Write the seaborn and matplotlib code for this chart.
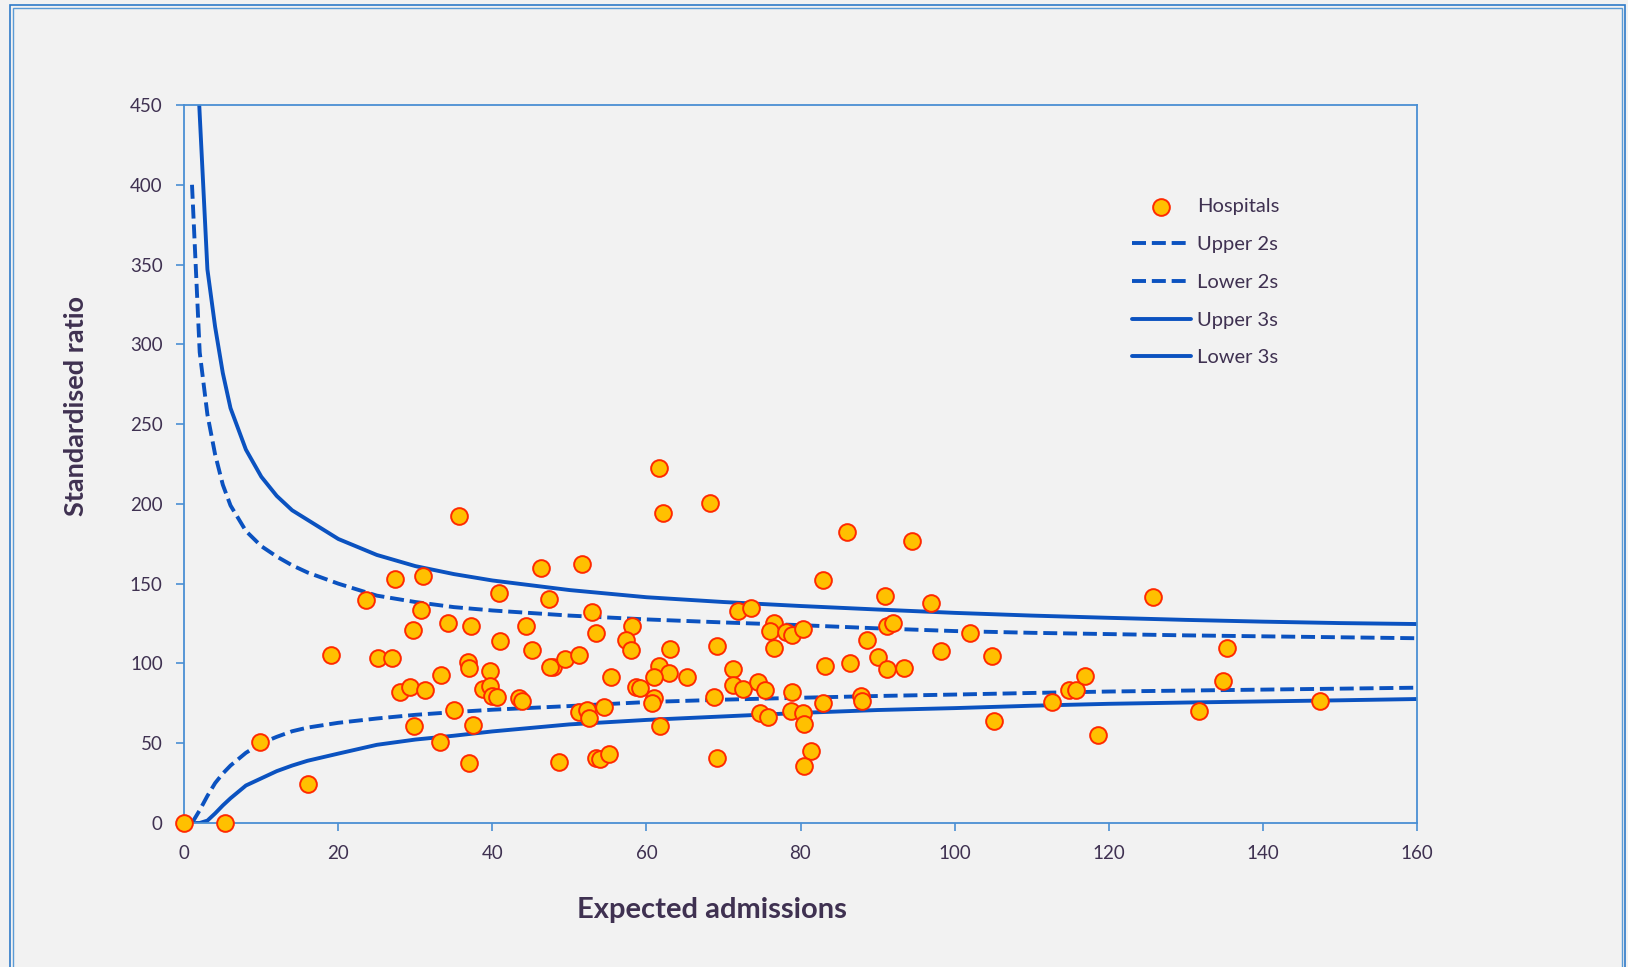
import matplotlib
matplotlib.use("Agg")
import matplotlib.pyplot as plt
from matplotlib.patches import Rectangle
import pandas as pd
import seaborn as sns

# Hospital results: expected admissions and standardised ratio (observed / expected x 100)
expected = [
    35.7, 27.4, 31.0, 23.6, 30.7, 40.9, 46.3, 47.4, 34.2, 37.2, 29.7, 44.4, 41.0,
    45.1, 19.0, 25.1, 27.0, 36.8, 36.9, 39.7, 33.3, 28.0, 29.3, 31.3, 38.8, 39.7,
    39.9, 40.6, 43.4, 43.9, 35.0, 29.8, 37.5, 33.2, 37.0, 9.8, 16.1, 0.0, 5.3,
    61.6, 62.1, 68.2, 86.0, 51.6, 82.9, 91.0, 52.9, 71.9, 73.6, 58.1, 53.5, 57.4,
    58.0, 63.1, 69.1, 76.5, 76.1, 78.1, 78.9, 80.3, 91.2, 92.0, 76.5, 88.6, 47.9,
    47.5, 49.4, 51.3, 55.4, 61.6, 62.9, 61.0, 65.3, 71.2, 71.3, 72.5, 74.5, 75.4,
    78.9, 83.2, 86.4, 90.0, 91.2, 93.5, 58.7, 59.2, 68.8, 61.0, 60.7, 87.8, 88.0,
    82.9, 51.3, 52.3, 52.6, 54.5, 61.7, 74.8, 75.8, 78.8, 80.3, 80.5, 81.4, 80.4,
    48.7, 53.4, 54.0, 55.2, 69.1,
    94.5, 97.0, 125.8, 102.0, 98.3, 104.9, 135.4, 105.1, 112.7, 114.9, 115.8,
    117.0, 118.6, 131.7, 134.9, 147.4,
]
ratio = [
    192.4, 153.1, 154.6, 140.0, 133.5, 144.3, 159.6, 140.4, 125.5, 123.7, 121.0, 123.6, 114.1,
    108.4, 105.3, 103.2, 103.2, 100.7, 97.0, 95.3, 92.6, 81.9, 85.0, 83.4, 84.0, 86.1,
    79.8, 79.2, 78.1, 76.7, 71.0, 60.6, 61.2, 51.0, 37.8, 51.0, 24.4, 0.0, 0.0,
    222.7, 194.3, 200.6, 182.2, 162.1, 152.1, 142.5, 132.4, 133.1, 134.5, 123.5, 119.3, 114.7,
    108.4, 108.9, 110.9, 125.2, 120.5, 119.9, 117.8, 121.6, 123.7, 125.2, 109.5, 114.7, 97.6,
    98.0, 102.6, 105.3, 91.7, 98.4, 93.8, 91.3, 91.3, 96.3, 86.5, 83.8, 88.2, 83.4,
    81.9, 98.4, 100.5, 103.8, 96.3, 97.2, 85.0, 84.4, 79.2, 78.1, 75.4, 79.8, 76.7,
    75.4, 69.8, 70.8, 66.0, 72.9, 61.0, 69.1, 66.6, 70.4, 69.1, 61.9, 45.3, 35.9,
    38.4, 40.9, 39.9, 43.4, 40.5,
    176.5, 138.1, 141.8, 119.3, 107.8, 104.7, 109.9, 63.7, 75.6, 83.2, 83.2,
    92.1, 55.3, 70.0, 88.8, 76.3,
]

# Control limits around 100, by expected admissions
upper3_x = [1.5, 2, 3, 4, 5, 6, 8, 10, 12, 14, 16, 20, 25, 30, 35, 40, 50, 60, 70,
            80, 90, 100, 110, 120, 130, 140, 150, 160]
upper3_y = [495, 444, 347, 311, 282, 260, 234, 217, 205, 196, 190, 178, 168, 161,
            156, 152, 146, 141.5, 138.5, 136, 133.8, 131.7, 130, 128.6, 127.3,
            126.2, 125.3, 124.7]

upper2_x = [1, 2, 3, 4, 5, 6, 8, 10, 12, 14, 16, 20, 25, 30, 35, 40, 50, 60, 70,
            80, 90, 100, 110, 120, 130, 140, 150, 160]
upper2_y = [400, 295, 256, 231, 212, 199, 183, 173.5, 167, 161.5, 157, 150, 142.5,
            138.5, 135.3, 133.2, 130, 127.6, 125.7, 124, 122, 120.3, 119.2, 118.4,
            117.6, 117, 116.4, 115.8]

lower2_x = [1, 2, 3, 4, 5, 6, 8, 10, 12, 14, 16, 20, 25, 30, 35, 40, 50, 60, 70,
            80, 90, 100, 110, 120, 130, 140, 150, 160]
lower2_y = [0, 8, 17, 25, 31, 36, 44, 50, 54, 57.5, 59.8, 62.8, 65.5, 67.8, 69.5,
            71, 73.3, 75.8, 77.3, 78.5, 79.6, 80.5, 81.5, 82.4, 83, 83.6, 84.2, 84.8]

lower3_x = [1.5, 2, 3, 4, 5, 6, 8, 10, 12, 14, 16, 20, 25, 30, 35, 40, 50, 60, 70,
            80, 90, 100, 110, 120, 130, 140, 150, 160]
lower3_y = [0, 0, 1.5, 6, 11, 15.5, 23.5, 28, 32.5, 36, 39, 43.5, 49, 52.3, 54.7,
            57.4, 61.8, 64.6, 66.8, 69, 70.8, 72, 73.5, 74.7, 75.5, 76.2, 76.9, 77.7]

x_ticks = [0, 20, 40, 60, 80, 100, 120, 140, 160]
y_ticks = [0, 50, 100, 150, 200, 250, 300, 350, 400, 450]

BG = "#F2F2F2"
TEXT = "#3F3151"
AXIS = "#4A8FD3"
LINE = "#0B52C0"
FILL = "#FFC000"
EDGE = "#FF2A00"

sns.set_style("ticks")
plt.rcParams["font.family"] = ["Lato", "DejaVu Sans"]

W, H = 1628, 967
fig = plt.figure(figsize=(W / 100, H / 100), dpi=100, facecolor=BG)
ax = fig.add_axes([184.3 / W, 1 - 823 / H, (1416.7 - 184.3) / W, (823 - 105) / H])
ax.set_facecolor(BG)

dash = (0, (3.6, 1.5))
sns.lineplot(x=upper2_x, y=upper2_y, ax=ax, color=LINE, linewidth=2.8,
             linestyle=dash, label="Upper 2s", zorder=2)
sns.lineplot(x=lower2_x, y=lower2_y, ax=ax, color=LINE, linewidth=2.8,
             linestyle=dash, label="Lower 2s", zorder=2)
sns.lineplot(x=upper3_x, y=upper3_y, ax=ax, color=LINE, linewidth=2.8,
             label="Upper 3s", zorder=2)
sns.lineplot(x=lower3_x, y=lower3_y, ax=ax, color=LINE, linewidth=2.8,
             label="Lower 3s", zorder=2)

hosp = pd.DataFrame({"Expected admissions": expected, "Standardised ratio": ratio})
sns.scatterplot(data=hosp, x="Expected admissions", y="Standardised ratio", ax=ax,
                s=145, color=FILL, edgecolor=EDGE, linewidth=1.4,
                label="Hospitals", zorder=4, clip_on=False)

ax.set_xlim(0, 160)
ax.set_ylim(0, 450)
ax.set_xticks(x_ticks)
ax.set_yticks(y_ticks)

for side in ["left", "right", "top", "bottom"]:
    ax.spines[side].set_visible(True)
    ax.spines[side].set_color(AXIS)
    ax.spines[side].set_linewidth(1.3)
ax.tick_params(direction="out", length=5.5, width=1.2, color=AXIS,
               labelsize=13.5, labelcolor=TEXT, pad=10)

ax.set_xlabel("Expected admissions", fontsize=21, fontweight="bold",
              color=TEXT, va="center")
ax.xaxis.set_label_coords(0.428, -0.1205)
ax.set_ylabel("Standardised ratio", fontsize=19.5, fontweight="bold",
              color=TEXT, va="center")
ax.yaxis.set_label_coords(-0.088, 0.581)

handles, labels = ax.get_legend_handles_labels()
order = [labels.index(n) for n in ["Hospitals", "Upper 2s", "Lower 2s", "Upper 3s", "Lower 3s"]]
ax.legend([handles[i] for i in order], [labels[i] for i in order],
          loc="upper left", bbox_to_anchor=(1131.7 / W, 1 - 198 / H),
          bbox_transform=fig.transFigure, frameon=False, fontsize=14.5,
          handlelength=2.95, handletextpad=0.3, labelspacing=1.03,
          borderpad=0, borderaxespad=0, labelcolor=TEXT)

# Double frame around the chart area
fig.patches.append(Rectangle((9.5 / W, -0.1), (1624.5 - 9.5) / W, 1.1 - 5 / H,
                             transform=fig.transFigure, fill=False,
                             edgecolor="#2F7BC8", linewidth=1.2))
fig.patches.append(Rectangle((12.5 / W, -0.1), (1621.5 - 12.5) / W, 1.1 - 8 / H,
                             transform=fig.transFigure, fill=False,
                             edgecolor="#5B9BD5", linewidth=1.0))

fig.savefig("out.png", dpi=100, facecolor=BG)
